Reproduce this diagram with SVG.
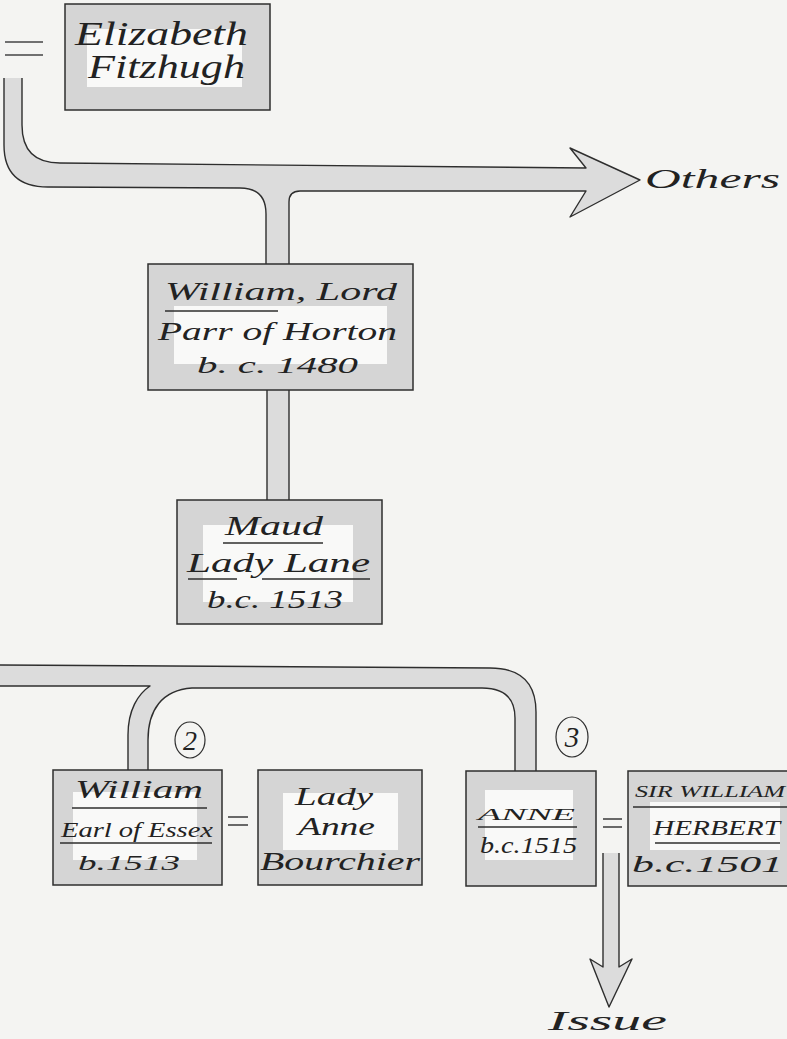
<svg xmlns="http://www.w3.org/2000/svg" width="787" height="1039" viewBox="0 0 787 1039">
<style>
.bg{fill:#f4f4f2}
.box{fill:#d5d5d5;stroke:#2e2e2e;stroke-width:1.5}
.inner{fill:#f9f9f8}
.band{fill:#dcdcdc;stroke:none}
.edge{fill:none;stroke:#2e2e2e;stroke-width:1.4;stroke-linejoin:round}
.t{font-family:"Liberation Serif","DejaVu Serif",serif;font-style:italic;fill:#222}
.ul{stroke:#2e2e2e;stroke-width:1.3}
.eq{stroke:#444;stroke-width:1.6}
.ring{fill:none;stroke:#2e2e2e;stroke-width:1.2}
</style>
<rect class="bg" x="0" y="0" width="787" height="1039"/>

<g id="connectors">
  <path class="band" d="M4 78 L4 145 Q4 187 48 187 L240 188 Q266 188 266 214 L266 264 L289 264 L289 202 Q289 191 300 191 L586 191 L570 217 L640 180 L570 148 L586 168 L60 163 Q22 163 22 125 L22 78 Z"/>
  <path class="edge" d="M4 78 L4 145 Q4 187 48 187 L240 188 Q266 188 266 214 L266 264 M289 264 L289 202 Q289 191 300 191 L586 191 L570 217 L640 180 L570 148 L586 168 L60 163 Q22 163 22 125 L22 78"/>
  <rect class="band" x="267" y="390" width="22" height="110"/>
  <path class="edge" d="M267 390 L267 500 M289 390 L289 500"/>
  <path class="band" d="M0 665 L490 668 Q536 668 536 712 L536 771 L515 771 L515 718 Q515 688 482 688 L192 688 C162 690 148 710 148 740 L148 770 L128 770 L128 735 C128 710 138 694 150 686 L0 686 Z"/>
  <path class="edge" d="M0 665 L490 668 Q536 668 536 712 L536 771 M515 771 L515 718 Q515 688 482 688 L192 688 C162 690 148 710 148 740 L148 770 M128 770 L128 735 C128 710 138 694 150 686 L0 686"/>
  <path class="band" d="M603 853 L603 967 L590 959 L609 1007 L632 959 L619 967 L619 853 Z"/>
  <path class="edge" d="M603 853 L603 967 L590 959 L609 1007 L632 959 L619 967 L619 853"/>
  <line class="eq" x1="5" y1="42" x2="43" y2="42"/>
  <line class="eq" x1="5" y1="55" x2="43" y2="55"/>
  <line class="eq" x1="228" y1="817" x2="248" y2="817"/>
  <line class="eq" x1="228" y1="825" x2="248" y2="825"/>
  <line class="eq" x1="603" y1="819" x2="622" y2="819"/>
  <line class="eq" x1="603" y1="827" x2="622" y2="827"/>
  <text class="t" x="645" y="188" font-size="28" textLength="135" lengthAdjust="spacingAndGlyphs">Others</text>
  <text class="t" x="548" y="1030" font-size="27" textLength="119" lengthAdjust="spacingAndGlyphs">Issue</text>
  <ellipse class="ring" cx="190" cy="740" rx="15" ry="18"/>
  <text class="t" x="190" y="750" font-size="28" text-anchor="middle">2</text>
  <ellipse class="ring" cx="572" cy="737" rx="16" ry="20"/>
  <text class="t" x="572" y="747" font-size="29" text-anchor="middle">3</text>
</g>

<g id="elizabeth">
  <rect class="box" x="65" y="4" width="205" height="106"/>
  <rect class="inner" x="87" y="29" width="155" height="58"/>
  <text class="t" x="75" y="45" font-size="33" textLength="173" lengthAdjust="spacingAndGlyphs">Elizabeth</text>
  <text class="t" x="88" y="78" font-size="33" textLength="157" lengthAdjust="spacingAndGlyphs">Fitzhugh</text>
</g>

<g id="william-lord-parr">
  <rect class="box" x="148" y="264" width="265" height="126"/>
  <rect class="inner" x="174" y="306" width="213" height="58"/>
  <text class="t" x="165" y="300" font-size="26" textLength="232" lengthAdjust="spacingAndGlyphs">William, Lord</text>
  <line class="ul" x1="165" y1="311" x2="278" y2="311"/>
  <text class="t" x="158" y="340" font-size="25" textLength="239" lengthAdjust="spacingAndGlyphs">Parr of Horton</text>
  <text class="t" x="197" y="373" font-size="24" textLength="161" lengthAdjust="spacingAndGlyphs">b. c. 1480</text>
</g>

<g id="maud">
  <rect class="box" x="177" y="500" width="205" height="124"/>
  <rect class="inner" x="203" y="525" width="150" height="77"/>
  <text class="t" x="225" y="535" font-size="27" textLength="98" lengthAdjust="spacingAndGlyphs">Maud</text>
  <line class="ul" x1="223" y1="543" x2="323" y2="543"/>
  <text class="t" x="187" y="572" font-size="27" textLength="183" lengthAdjust="spacingAndGlyphs">Lady Lane</text>
  <line class="ul" x1="188" y1="579" x2="237" y2="579"/>
  <line class="ul" x1="262" y1="579" x2="370" y2="579"/>
  <text class="t" x="207" y="608" font-size="26" textLength="136" lengthAdjust="spacingAndGlyphs">b.c. 1513</text>
</g>

<g id="william-essex">
  <rect class="box" x="53" y="770" width="169" height="115"/>
  <rect class="inner" x="73" y="792" width="124" height="68"/>
  <text class="t" x="75" y="798" font-size="25" textLength="128" lengthAdjust="spacingAndGlyphs">William</text>
  <line class="ul" x1="72" y1="808" x2="207" y2="808"/>
  <text class="t" x="61" y="837" font-size="20" textLength="152" lengthAdjust="spacingAndGlyphs">Earl of Essex</text>
  <line class="ul" x1="60" y1="843" x2="212" y2="843"/>
  <text class="t" x="78" y="870" font-size="22" textLength="102" lengthAdjust="spacingAndGlyphs">b.1513</text>
</g>

<g id="anne-bourchier">
  <rect class="box" x="258" y="770" width="164" height="115"/>
  <rect class="inner" x="283" y="793" width="115" height="57"/>
  <text class="t" x="295" y="805" font-size="25" textLength="78" lengthAdjust="spacingAndGlyphs">Lady</text>
  <text class="t" x="298" y="835" font-size="25" textLength="77" lengthAdjust="spacingAndGlyphs">Anne</text>
  <text class="t" x="260" y="870" font-size="25" textLength="160" lengthAdjust="spacingAndGlyphs">Bourchier</text>
</g>

<g id="anne">
  <rect class="box" x="466" y="771" width="130" height="115"/>
  <rect class="inner" x="485" y="790" width="88" height="70"/>
  <text class="t" x="478" y="820" font-size="17" textLength="97" lengthAdjust="spacingAndGlyphs">ANNE</text>
  <line class="ul" x1="478" y1="827" x2="577" y2="827"/>
  <text class="t" x="480" y="853" font-size="23" textLength="97" lengthAdjust="spacingAndGlyphs">b.c.1515</text>
</g>

<g id="william-herbert">
  <rect class="box" x="628" y="771" width="170" height="115"/>
  <rect class="inner" x="650" y="802" width="130" height="48"/>
  <text class="t" x="635" y="797" font-size="17" textLength="150" lengthAdjust="spacingAndGlyphs">SIR WILLIAM</text>
  <line class="ul" x1="633" y1="807" x2="787" y2="807"/>
  <text class="t" x="653" y="835" font-size="21" textLength="127" lengthAdjust="spacingAndGlyphs">HERBERT</text>
  <line class="ul" x1="655" y1="843" x2="780" y2="843"/>
  <text class="t" x="632" y="872" font-size="23" textLength="151" lengthAdjust="spacingAndGlyphs">b.c.1501</text>
</g>
</svg>
